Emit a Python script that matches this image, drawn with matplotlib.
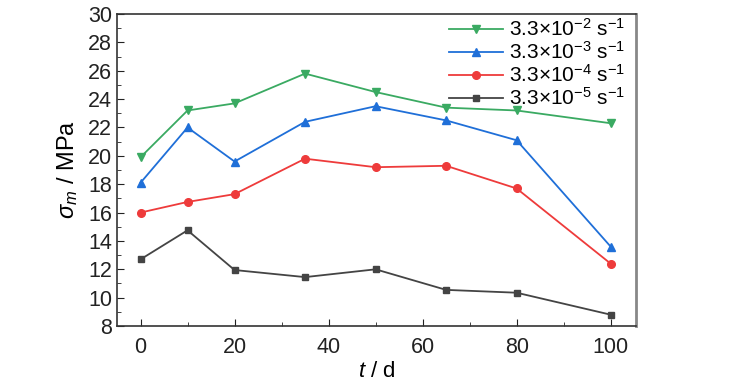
import matplotlib
matplotlib.use("Agg")
import matplotlib.pyplot as plt
from matplotlib.ticker import MultipleLocator

plt.rcParams['font.family'] = ['Liberation Sans', 'DejaVu Sans']
plt.rcParams['mathtext.fontset'] = 'custom'
plt.rcParams['mathtext.rm'] = 'Liberation Sans'
plt.rcParams['mathtext.it'] = 'Liberation Sans:italic'

t_days = [0, 10, 20, 35, 50, 65, 80, 100]
s_2 = [19.9, 23.2, 23.7, 25.8, 24.5, 23.4, 23.2, 22.3]
s_3 = [18.1, 22.0, 19.6, 22.4, 23.5, 22.5, 21.1, 13.6]
s_4 = [16.0, 16.75, 17.3, 19.8, 19.2, 19.3, 17.7, 12.4]
s_5 = [12.7, 14.75, 11.95, 11.45, 12.0, 10.55, 10.35, 8.8]
labels = [r"3.3$\times$10$^{-2}$ s$^{-1}$", r"3.3$\times$10$^{-3}$ s$^{-1}$",
          r"3.3$\times$10$^{-4}$ s$^{-1}$", r"3.3$\times$10$^{-5}$ s$^{-1}$"]
colors = ["#3aaa62", "#1f6fd8", "#ee3b3b", "#444444"]
markers = ["v", "^", "o", "s"]
msizes = [6, 6, 5.5, 5]

fig = plt.figure(figsize=(7.29, 3.9), dpi=100)
ax = fig.add_axes([0.1605, 0.164, 0.712, 0.800])

for ys, c, m, ms, lab in zip([s_2, s_3, s_4, s_5], colors, markers, msizes, labels):
    ax.plot(t_days, ys, color=c, marker=m, markersize=ms, linewidth=1.3, label=lab)

ax.set_xlim(-5, 105.4)
ax.set_ylim(8, 30)
ax.xaxis.set_major_locator(MultipleLocator(20))
ax.xaxis.set_minor_locator(MultipleLocator(10))
ax.yaxis.set_major_locator(MultipleLocator(2))
ax.yaxis.set_minor_locator(MultipleLocator(1))
ax.tick_params(which='both', direction='in', top=False, right=False, labelsize=15.5, colors='#222222')
ax.tick_params(which='major', length=5)
ax.tick_params(which='minor', length=3)
ax.tick_params(axis='x', pad=8)
for sp in ax.spines.values():
    sp.set_color('#333333')
    sp.set_linewidth(1.2)
ax.spines['right'].set_color('#888888')
ax.spines['right'].set_linewidth(2)

ax.set_xlabel(r"$\it{t}$ / d", fontsize=16, labelpad=2)
ax.set_ylabel(r"$\sigma_{\it{m}}$ / MPa", fontsize=17, labelpad=6)

leg = ax.legend(loc='upper right', bbox_to_anchor=(1.0, 1.02), frameon=False, fontsize=15,
                handlelength=2.6, handletextpad=0.3, labelspacing=0.05, borderaxespad=0.1)

fig.savefig("out.png", dpi=100)
